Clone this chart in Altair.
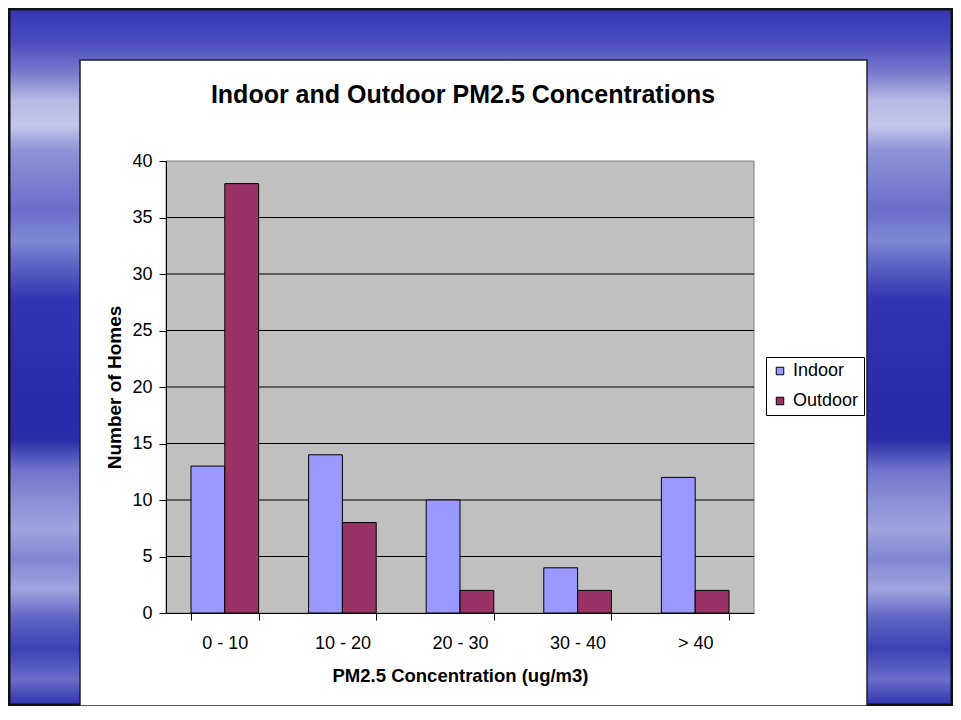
import altair as alt
import pandas as pd

categories = ["0 - 10", "10 - 20", "20 - 30", "30 - 40", "> 40"]
indoor = [13, 14, 10, 4, 12]
outdoor = [38, 8, 2, 2, 2]
series_names = ["Indoor", "Outdoor"]
series_colors = ["#9999ff", "#993366"]
grid_values = [5, 10, 15, 20, 25, 30, 35]

rows = []
for c, a, b in zip(categories, indoor, outdoor):
    rows.append({"cat": c, "series": "Indoor", "value": a})
    rows.append({"cat": c, "series": "Outdoor", "value": b})
df = pd.DataFrame(rows)
one = pd.DataFrame({"k": [0]})
grid_df = pd.DataFrame({"v": grid_values})

W, H = 588, 452
PL, PT = 158, 153
PR = 945 - PL - W
PB = 698 - PT - H

FONT = "Liberation Sans"

stops_raw = [
    (8, "#3434b4"), (40, "#4a4cbf"), (70, "#7676cc"), (100, "#b8b9e4"),
    (125, "#c4c6ea"), (150, "#8f93d8"), (180, "#7c80d0"), (210, "#6a6ec9"),
    (240, "#8088d4"), (265, "#5d62c4"), (300, "#3333b3"), (400, "#2a2aab"),
    (440, "#2c2ca9"), (470, "#6f73cb"), (500, "#8a8ed6"), (530, "#9fa3de"),
    (560, "#8286d2"), (590, "#a0a4de"), (620, "#5d62c3"), (650, "#3d40b6"),
    (680, "#6a6ec8"), (706, "#3333b0"),
]
stops = [alt.GradientStop(offset=(y - 8) / 698, color=c) for y, c in stops_raw]

bg = alt.Chart(one).mark_rect(
    fill=alt.Gradient(gradient="linear", stops=stops, x1=0, x2=0, y1=0, y2=1),
    stroke="#111111", strokeWidth=3,
).encode(
    x=alt.value(-PL + 1), x2=alt.value(W + PR - 1),
    y=alt.value(-PT + 1), y2=alt.value(H + PB - 1),
)

box = alt.Chart(one).mark_rect(fill="white", stroke="#222222", strokeWidth=1.5).encode(
    x=alt.value(-86), x2=alt.value(701), y=alt.value(-101), y2=alt.value(545),
)

plotbg = alt.Chart(one).mark_rect(fill="#c0c0c0", stroke="#808080", strokeWidth=1).encode(
    x=alt.value(0), x2=alt.value(W), y=alt.value(0), y2=alt.value(H),
)

title = alt.Chart(one).mark_text(
    text="Indoor and Outdoor PM2.5 Concentrations",
    font=FONT, fontSize=25, fontWeight="bold", color="black",
    align="center", baseline="middle",
).encode(x=alt.value(297), y=alt.value(-66))

yscale = alt.Scale(domain=[0, 40], nice=False)

grid = alt.Chart(grid_df).mark_rule(color="#000000", strokeWidth=1).encode(
    y=alt.Y("v:Q", scale=yscale),
    x=alt.value(0), x2=alt.value(W),
)

bars = alt.Chart(df).mark_bar(stroke="black", strokeWidth=1).encode(
    x=alt.X("cat:N", sort=categories,
            scale=alt.Scale(paddingInner=0.425, paddingOuter=0.2125),
            axis=alt.Axis(title="PM2.5 Concentration (ug/m3)", labelAngle=0,
                          tickBand="extent", labelPadding=14, titlePadding=14,
                          titleFontSize=18.5, zindex=2, grid=False)),
    xOffset=alt.XOffset("series:N", sort=series_names),
    y=alt.Y("value:Q", scale=yscale,
            axis=alt.Axis(title="Number of Homes", values=list(range(0, 41, 5)),
                          labelPadding=7, titlePadding=7, titleFontSize=19,
                          zindex=2, grid=False)),
    color=alt.Color("series:N",
                    scale=alt.Scale(domain=series_names, range=series_colors),
                    legend=alt.Legend(title=None, orient="none", legendX=600, legendY=196,
                                      strokeColor="black", fillColor="white",
                                      padding=5, rowPadding=12, labelFontSize=18,
                                      labelFont=FONT, labelColor="black",
                                      symbolType="square", symbolSize=56,
                                      symbolStrokeColor="black", symbolStrokeWidth=1,
                                      labelOffset=4)),
)

chart = alt.layer(bg, box, plotbg, title, grid, bars).properties(
    width=W, height=H,
    autosize=alt.AutoSizeParams(type="none"),
    padding={"left": PL, "top": PT, "right": PR, "bottom": PB},
    background="white",
).configure_axis(
    labelFont=FONT, titleFont=FONT, labelFontSize=18, titleFontSize=18.5,
    titleFontWeight="bold", labelColor="black", titleColor="black",
    domainColor="black", tickColor="black", tickSize=7,
).configure_view(stroke=None)

chart.save("out.html", embed_options={"renderer": "svg", "actions": False})
